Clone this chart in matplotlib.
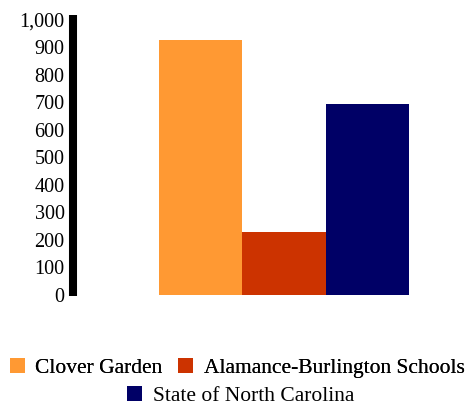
import matplotlib
matplotlib.use("Agg")
import matplotlib.pyplot as plt
from matplotlib.patches import Patch

categories = ["Clover Garden", "Alamance-Burlington Schools", "State of North Carolina"]
values = [927, 229, 694]
colors = ["#FF9933", "#CC3300", "#000066"]
yticks = [0, 100, 200, 300, 400, 500, 600, 700, 800, 900, 1000]
ytick_labels = ["0", "100", "200", "300", "400", "500", "600", "700", "800", "900", "1,000"]

W, H = 468, 407
fig = plt.figure(figsize=(W / 100, H / 100), dpi=100)
ax = fig.add_axes([73 / W, 1 - 296 / H, (460 - 73) / W, (296 - 15) / H])

x = list(range(len(categories)))
ax.bar(x, values, width=1.0, color=colors, linewidth=0)

ax.set_xlim(-1.53, 3.11)
ax.set_ylim(-4, 1018)
ax.set_yticks(yticks)
ax.set_yticklabels(ytick_labels, fontfamily="Liberation Serif", fontsize=14.5)
ax.set_xticks([])
for s in ["top", "right", "bottom"]:
    ax.spines[s].set_visible(False)
ax.spines["left"].set_linewidth(5.8)
ax.spines["left"].set_color("black")
ax.spines["left"].set_capstyle("butt")
ax.tick_params(axis="y", length=0, pad=6)

handles = [Patch(facecolor=c, edgecolor="none") for c in colors]
leg_font = {"family": "Liberation Serif", "size": 15.5}
leg1 = fig.legend(handles[:2], categories[:2], loc="center", bbox_to_anchor=(237 / W, 1 - 368 / H),
                  ncol=2, frameon=False, prop=leg_font, handlelength=0.7, handleheight=0.7,
                  handletextpad=0.5, columnspacing=0.7, borderpad=0)
leg2 = fig.legend(handles[2:], categories[2:], loc="center", bbox_to_anchor=(241 / W, 1 - 396 / H),
                  ncol=1, frameon=False, prop=leg_font, handlelength=0.7, handleheight=0.7,
                  handletextpad=0.5, borderpad=0)
fig.add_artist(leg1)

fig.savefig("out.png", dpi=100)
